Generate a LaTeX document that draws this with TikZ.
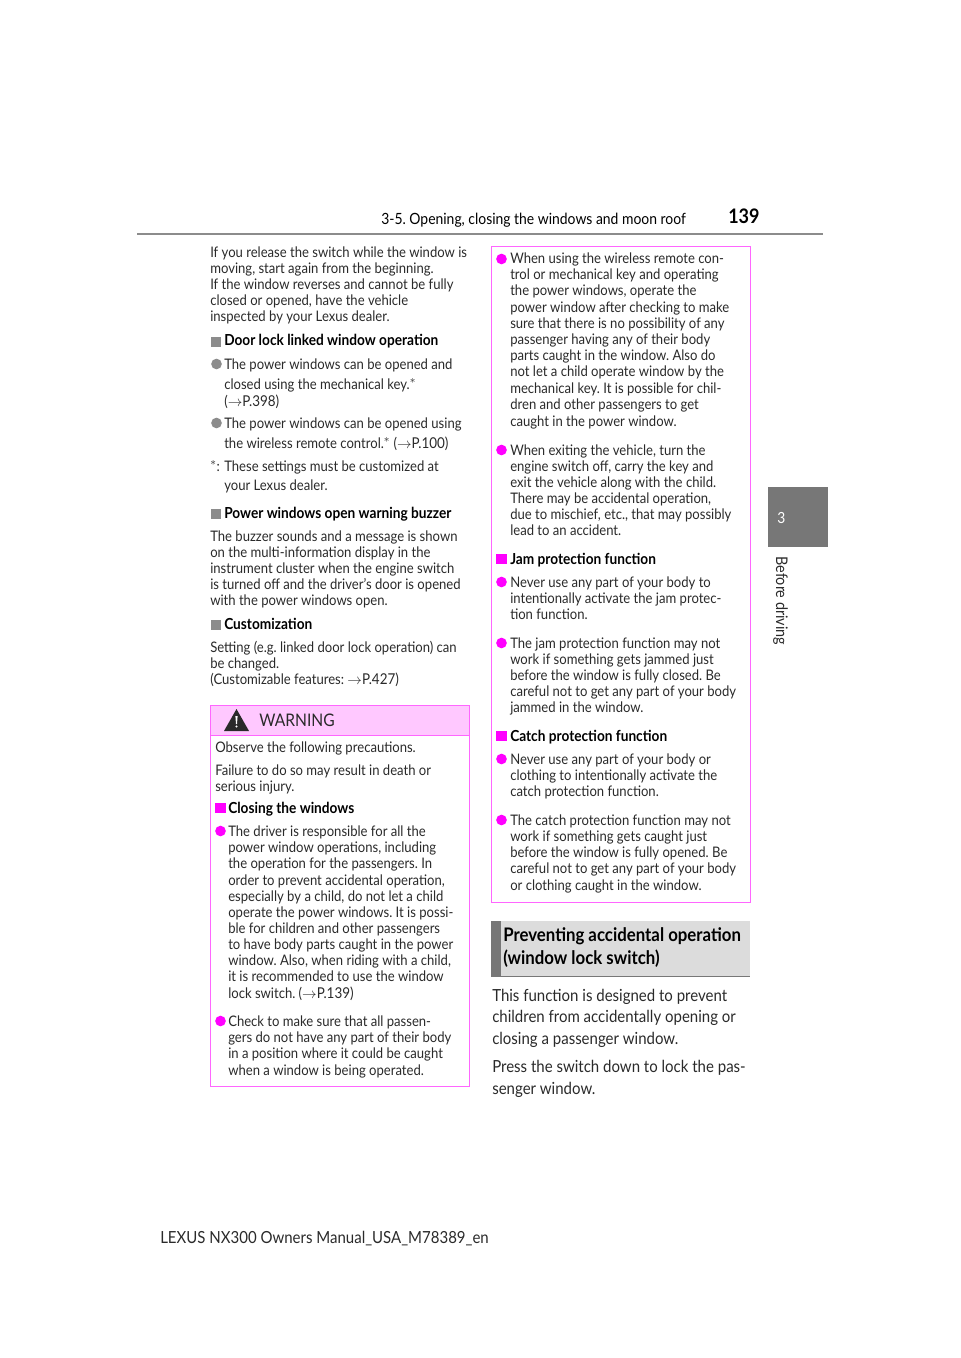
\documentclass[tikz,border=0pt]{standalone}
\usepackage{fontspec}
\setmainfont[FakeStretch=0.9]{Lato}
\definecolor{pinkline}{HTML}{FF66FF}
\definecolor{pinkfill}{HTML}{FFC8FF}
\definecolor{pinkmark}{HTML}{FF00FF}
\definecolor{markgray}{HTML}{8C8C8C}
\definecolor{tabgray}{HTML}{777777}
\definecolor{headgray}{HTML}{DCDCDC}
\definecolor{inkgray}{HTML}{2A2A2A}
\newcommand{\pg}[1]{{\fontsize{11.2}{12}\selectfont$\rightarrow$P.#1)}}

\tikzset{
	bodyline/.style={anchor=base west,inner sep=0pt,text=inkgray,font=\fontsize{10.9}{12}\selectfont\frenchspacing},
	headline/.style={bodyline,text=black,font=\fontsize{11.4}{12}\selectfont\bfseries\frenchspacing},
	bigline/.style={bodyline,font=\fontsize{12.5}{13}\selectfont\frenchspacing},
	titleline/.style={bodyline,text=black,font=\fontsize{14}{14}\selectfont\bfseries\frenchspacing},
	squaremark/.style={rectangle,fill=#1,minimum width=8pt,minimum height=7.5pt,inner sep=0pt},
	dotmark/.style={circle,fill=#1,minimum size=8pt,inner sep=0pt},
}

\begin{document}
\begin{tikzpicture}[x=0.75pt,y=-0.75pt]
	\useasboundingbox (0,0) rectangle (960,1358);

	% page head
	\draw[markgray,line width=2.1pt] (137,234) -- (823,234);
	\node[bodyline,text=black,font=\fontsize{11.6}{13}\selectfont\frenchspacing] (section) at (381,225) {3-5. Opening, closing the windows and moon roof};
	\node[titleline,font=\fontsize{15}{15}\selectfont\bfseries] (pagenum) at (728,224) {139};
	\fill[tabgray] (768,487) rectangle (828,547);
	\node[bodyline,text=white,font=\fontsize{11.5}{13}\selectfont] (tabnum) at (777,523) {3};
	\node[bodyline,rotate=-90,anchor=base west,font=\fontsize{12}{13}\selectfont] (tabtext) at (776,556) {Before driving};

	% boxes
	\draw[pinkline,fill=pinkfill,line width=0.75pt] (210,705.5) rectangle (469,735);
	\draw[pinkline,line width=0.75pt] (210,735) rectangle (469,1086);
	\draw[pinkline,line width=0.75pt] (491,247) rectangle (750,902);
	\fill[headgray] (491,921) rectangle (750,977);
	\fill[tabgray] (491,921) rectangle (501,977);
	\fill[tabgray] (491,975.5) rectangle (750,977);

	% warning sign
	\fill[inkgray] (224,731) -- (236.5,709) -- (249,731) -- cycle;
	\fill[white] (235.4,716) -- (237.6,716) -- (237,724) -- (236,724) -- cycle;
	\fill[white] (236.5,726.5) circle (1.2);
	\node[bodyline,font=\fontsize{13}{13}\selectfont] (warning) at (259,726) {WARNING};

	% left column
	\foreach \y/\linetext in {
		253/{If you release the switch while the window is},
		269/{moving, start again from the beginning.},
		285/{If the window reverses and cannot be fully},
		301/{closed or opened, have the vehicle},
		317/{inspected by your Lexus dealer.},
		536/{The buzzer sounds and a message is shown},
		552/{on the multi-information display in the},
		568/{instrument cluster when the engine switch},
		584/{is turned off and the driver’s door is opened},
		600/{with the power windows open.},
		647/{Setting (e.g. linked door lock operation) can},
		663/{be changed.},
		679/{(Customizable features: \pg{427}}}
		\node[bodyline] (left\y) at (210,\y+5) {\linetext};
	\foreach \y/\linetext in {
		364/{The power windows can be opened and},
		384/{closed using the mechanical key.$^{*}$},
		401/{(\pg{398}},
		423/{The power windows can be opened using},
		443/{the wireless remote control.$^{*}$ (\pg{100}},
		466/{These settings must be customized at},
		485/{your Lexus dealer.}}
		\node[bodyline] (left\y) at (224,\y+5) {\linetext};
	\node[bodyline] (star) at (210,471) {$^{*}$:};
	\foreach \y/\linetext in {341/{Door lock linked window operation},513/{Power windows open warning buzzer},624/{Customization}}{
		\node[squaremark=markgray] (leftsq\y) at (216,\y+1) {};
		\node[headline] (left\y) at (224,\y+5) {\linetext};
	}
	\foreach \y in {364,423}
		\node[dotmark=markgray] (leftdot\y) at (216.5,\y) {};

	% warning box text
	\foreach \y/\linetext in {
		747/{Observe the following precautions.},
		770/{Failure to do so may result in death or},
		786/{serious injury.}}
		\node[bodyline] (warn\y) at (215,\y+5) {\linetext};
	\foreach \y/\linetext in {
		831/{The driver is responsible for all the},
		847/{power window operations, including},
		863/{the operation for the passengers. In},
		880/{order to prevent accidental operation,},
		896/{especially by a child, do not let a child},
		912/{operate the power windows. It is possi-},
		928/{ble for children and other passengers},
		944/{to have body parts caught in the power},
		960/{window. Also, when riding with a child,},
		976/{it is recommended to use the window},
		993/{lock switch. (\pg{139}},
		1021/{Check to make sure that all passen-},
		1037/{gers do not have any part of their body},
		1053/{in a position where it could be caught},
		1070/{when a window is being operated.}}
		\node[bodyline] (warn\y) at (228,\y+5) {\linetext};
	\node[squaremark=pinkmark] (warnsq) at (220.5,808) {};
	\node[headline] (warn808) at (228,813) {Closing the windows};
	\foreach \y in {831,1021}
		\node[dotmark=pinkmark] (warndot\y) at (220.5,\y) {};

	% right box text
	\foreach \y/\linetext in {
		259/{When using the wireless remote con-},
		275/{trol or mechanical key and operating},
		291/{the power windows, operate the},
		308/{power window after checking to make},
		324/{sure that there is no possibility of any},
		340/{passenger having any of their body},
		356/{parts caught in the window. Also do},
		372/{not let a child operate window by the},
		388/{mechanical key. It is possible for chil-},
		404/{dren and other passengers to get},
		421/{caught in the power window.},
		450/{When exiting the vehicle, turn the},
		466/{engine switch off, carry the key and},
		482/{exit the vehicle along with the child.},
		498/{There may be accidental operation,},
		514/{due to mischief, etc., that may possibly},
		530/{lead to an accident.},
		582/{Never use any part of your body to},
		598/{intentionally activate the jam protec-},
		614/{tion function.},
		643/{The jam protection function may not},
		659/{work if something gets jammed just},
		675/{before the window is fully closed. Be},
		691/{careful not to get any part of your body},
		707/{jammed in the window.},
		759/{Never use any part of your body or},
		775/{clothing to intentionally activate the},
		791/{catch protection function.},
		820/{The catch protection function may not},
		836/{work if something gets caught just},
		852/{before the window is fully opened. Be},
		868/{careful not to get any part of your body},
		885/{or clothing caught in the window.}}
		\node[bodyline] (right\y) at (510,\y+5) {\linetext};
	\foreach \y/\linetext in {559/{Jam protection function},736/{Catch protection function}}{
		\node[squaremark=pinkmark] (rightsq\y) at (501.5,\y) {};
		\node[headline] (right\y) at (510,\y+5) {\linetext};
	}
	\foreach \y in {259,450,582,643,759,820}
		\node[dotmark=pinkmark] (rightdot\y) at (501.5,\y) {};

	% title and closing text
	\node[titleline] (title1) at (503,941) {Preventing accidental operation};
	\node[titleline] (title2) at (503,964) {(window lock switch)};
	\foreach \y/\linetext in {
		995/{This function is designed to prevent},
		1016/{children from accidentally opening or},
		1038/{closing a passenger window.},
		1066/{Press the switch down to lock the pas-},
		1088/{senger window.}}
		\node[bigline] (close\y) at (492,\y+6) {\linetext};

	% footer
	\node[bodyline,font=\fontsize{12.5}{13}\selectfont] (footer) at (160,1243) {LEXUS NX300 Owners Manual\_USA\_M78389\_en};
\end{tikzpicture}
\end{document}
